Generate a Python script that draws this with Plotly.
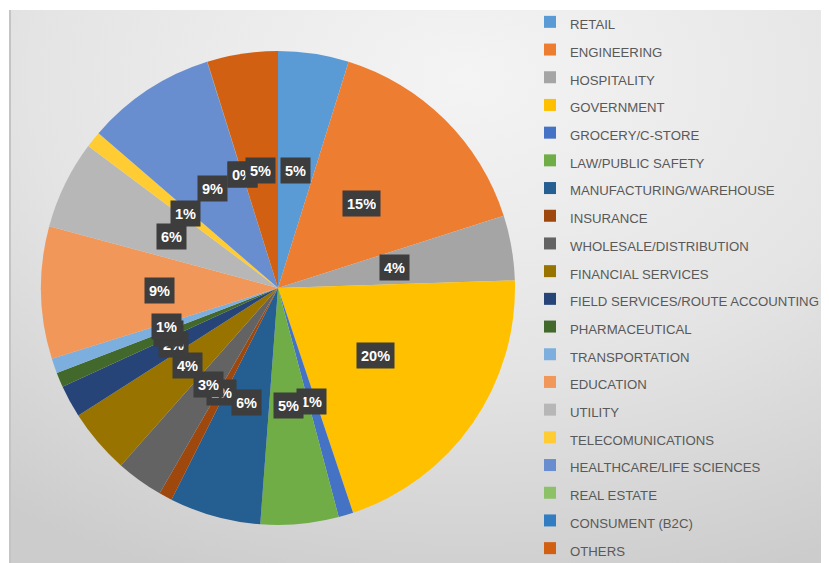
import base64
import numpy as np
import plotly.graph_objects as go

# ---------------- data ----------------
categories = [
    "RETAIL", "ENGINEERING", "HOSPITALITY", "GOVERNMENT", "GROCERY/C-STORE",
    "LAW/PUBLIC SAFETY", "MANUFACTURING/WAREHOUSE", "INSURANCE",
    "WHOLESALE/DISTRIBUTION", "FINANCIAL SERVICES",
    "FIELD SERVICES/ROUTE ACCOUNTING", "PHARMACEUTICAL", "TRANSPORTATION",
    "EDUCATION", "UTILITY", "TELECOMUNICATIONS", "HEALTHCARE/LIFE SCIENCES",
    "REAL ESTATE", "CONSUMENT (B2C)", "OTHERS",
]
shares = [4.8, 15.2, 4.4, 20.3, 1.0, 5.3, 6.2, 0.9, 3.2, 4.4,
          2.2, 1.0, 1.0, 9.0, 6.0, 1.1, 8.8, 0.01, 0.01, 4.8]
colors = [
    "#5B9BD5", "#ED7D31", "#A5A5A5", "#FFC000", "#4472C4", "#70AD47",
    "#255E91", "#9E480E", "#636363", "#997300", "#264478", "#43682B",
    "#7CAFDD", "#F1975A", "#B7B7B7", "#FFCD33", "#698ED0", "#8CC168",
    "#327DC2", "#D26012",
]

# ---------------- geometry ----------------
# the page adds an 8px body margin, so figure pixel = screen pixel - 8.
# The figure is made taller than the window so the legend may start above the top edge.
W, H = 829, 1200
CX, CY, R = 270, 280, 237          # pie centre / radius in figure pixels (from top-left)
dom_x = [(CX - R) / W, (CX + R) / W]
dom_y = [(H - CY - R) / H, (H - CY + R) / H]

fig = go.Figure()

# background gradient (decoration) as inline SVG image
BW, BH = W - 1, 560
svg = f"""<svg xmlns='http://www.w3.org/2000/svg' width='{BW}' height='{BH}' viewBox='0 0 {BW} {BH}'>
<defs><radialGradient id='g' cx='0.55' cy='0.12' r='0.95'>
<stop offset='0' stop-color='#f4f4f4'/><stop offset='0.55' stop-color='#e4e4e4'/>
<stop offset='1' stop-color='#cccccc'/></radialGradient></defs>
<rect width='{BW}' height='{BH}' fill='url(#g)'/>
<rect x='0' y='0' width='2' height='{BH}' fill='#c4c4c4'/>
</svg>"""
src = "data:image/svg+xml;base64," + base64.b64encode(svg.encode()).decode()

labels_legend = [f"<span style='font-size:13.2px'>{c}</span>" for c in categories]

fig.add_trace(go.Pie(
    labels=labels_legend,
    values=shares,
    sort=False,
    direction="clockwise",
    rotation=0,
    marker=dict(colors=colors, line=dict(width=0)),
    textinfo="none",
    hoverinfo="label+percent",
    domain=dict(x=dom_x, y=dom_y),
    showlegend=True,
))

# data labels (derived from values): dark boxes at half radius on mid-angle
vals = np.array(shares, dtype=float)
tot = vals.sum()
cum = np.cumsum(vals) - vals / 2
theta = cum / tot * 2 * np.pi
pct = np.round(vals / tot * 100).astype(int)
annotations = []
for t, p in zip(theta, pct):
    px = CX + 0.5 * R * np.sin(t)
    py = CY - 0.5 * R * np.cos(t)
    annotations.append(dict(
        x=px / W, y=1 - py / H, xref="paper", yref="paper",
        xanchor="center", yanchor="middle",
        text=f"<b>{p}%</b>", showarrow=False,
        font=dict(family="Liberation Sans, Arial", size=14.5, color="white"),
        bgcolor="#3d3d3d", borderpad=4, height=17,
    ))

fig.update_layout(
    width=W, height=H,
    margin=dict(l=0, r=0, t=0, b=0, autoexpand=False),
    paper_bgcolor="white",
    images=[dict(source=src, xref="paper", yref="paper", x=1 / W, y=1 - 2 / H,
                 sizex=BW / W, sizey=BH / H, sizing="stretch",
                 xanchor="left", yanchor="top", layer="below")],
    legend=dict(
        x=522 / W, y=1 + 5 / H, xanchor="left", yanchor="top",
        font=dict(family="Liberation Sans, Arial", size=19, color="#595959"),
        bgcolor="rgba(0,0,0,0)", borderwidth=0,
    ),
    annotations=annotations,
)

fig.write_html("out.html")
